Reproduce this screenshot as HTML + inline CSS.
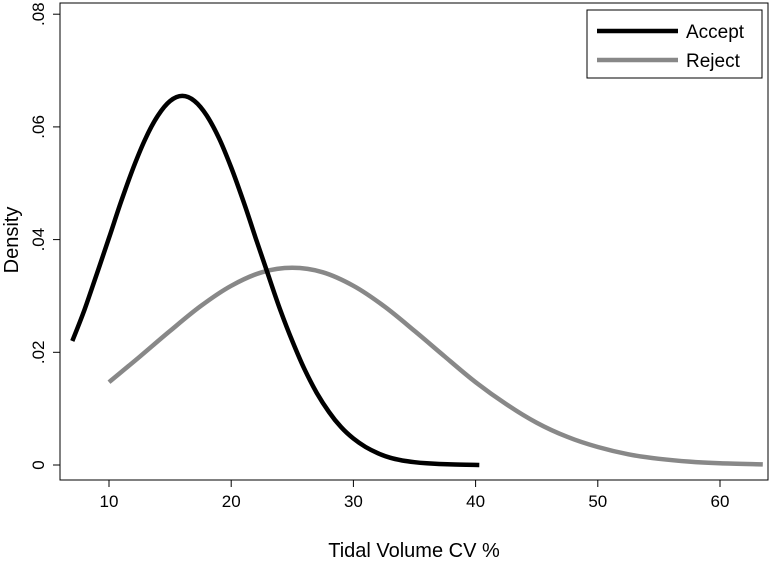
<!DOCTYPE html>
<html><head><meta charset="utf-8"><style>
body{margin:0;background:#fff;}
svg{display:block;font-family:"Liberation Sans",Arial,sans-serif;}
</style></head><body>
<svg id="chart" width="772" height="565" viewBox="0 0 772 565"></svg>
<script>
const xTicks=[10,20,30,40,50,60];
const yTicks=[0,0.02,0.04,0.06,0.08];
const yTickLabels=["0",".02",".04",".06",".08"];
const acceptX=[7,8,9,10,11,12,13,14,15,16,17,18,19,20,21,22,23,24,25,26,27,28,29,30,31,32,33,34,35,36,38,40.3];
const acceptY=[.0220,.0276,.0339,.0403,.0468,.0528,.0580,.0620,.0646,.0655,.0646,.0620,.0580,.0528,.0468,.0403,.0339,.0276,.0220,.0170,.0128,.0094,.0067,.0047,.0032,.0021,.0013,.0008,.0005,.0003,.0001,0];
const rejectX=[10,12.5,15,17.5,20,22.5,25,27.5,30,32.5,35,37.5,40,42.5,45,47.5,50,52.5,55,57.5,60,63.5];
const rejectY=[.0147,.0192,.0238,.0282,.0318,.0342,.0350,.0342,.0318,.0282,.0238,.0192,.0147,.0108,.0075,.0050,.0032,.0019,.0011,.0006,.0003,.0001];

const NS="http://www.w3.org/2000/svg";
const svg=document.getElementById('chart');
const L=60,R=768,T=3,B=480;
const xS=v=>109+(v-10)*12.22;
const yS=v=>465-v*5635;
function mk(tag,attrs,parent){const e=document.createElementNS(NS,tag);for(const k in attrs)e.setAttribute(k,attrs[k]);(parent||svg).appendChild(e);return e;}

const frame=mk('rect',{x:L,y:T,width:R-L,height:B-T,fill:'none',stroke:'#000','stroke-width':1});



xTicks.forEach(t=>{
  const tk=mk('line',{x1:xS(t),x2:xS(t),y1:B,y2:B+7,stroke:'#000'});
  
  
  const tx=mk('text',{x:xS(t),y:B+27,'text-anchor':'middle','font-size':17});
  tx.textContent=t;
  
  
});
yTicks.forEach((t,i)=>{
  const y=yS(t);
  const tk=mk('line',{x1:L-7,x2:L,y1:y,y2:y,stroke:'#000'});
  
  
  const tx=mk('text',{x:44,y:y,'text-anchor':'middle','font-size':17,transform:`rotate(-90 44 ${y})`});
  tx.textContent=yTickLabels[i];
  
  
});

const xt=mk('text',{x:414,y:557,'text-anchor':'middle','font-size':20});
xt.textContent='Tidal Volume CV %';


const yt=mk('text',{x:18,y:240,'text-anchor':'middle','font-size':20,transform:'rotate(-90 18 240)'});
yt.textContent='Density';



function curve(xs,ys,color,name){
  const P=xs.map((x,i)=>[xS(x),yS(ys[i])]);
  let d='M'+P[0][0].toFixed(1)+' '+P[0][1].toFixed(1);
  for(let i=0;i<P.length-1;i++){
    const p0=P[Math.max(0,i-1)],p1=P[i],p2=P[i+1],p3=P[Math.min(P.length-1,i+2)];
    const c1=[p1[0]+(p2[0]-p0[0])/6,p1[1]+(p2[1]-p0[1])/6];
    const c2=[p2[0]-(p3[0]-p1[0])/6,p2[1]-(p3[1]-p1[1])/6];
    d+=` C${c1[0].toFixed(1)} ${c1[1].toFixed(1)} ${c2[0].toFixed(1)} ${c2[1].toFixed(1)} ${p2[0].toFixed(1)} ${p2[1].toFixed(1)}`;
  }
  const p=mk('path',{d:d,fill:'none',stroke:color,'stroke-width':4.5,'stroke-linejoin':'round'});
  
  
}
curve(rejectX,rejectY,'#888','reject-line');
curve(acceptX,acceptY,'#000','accept-line');

const lg=mk('g',{});


mk('rect',{x:587,y:10,width:175,height:68,fill:'#fff',stroke:'#000'},lg);
[['Accept','#000',31],['Reject','#888',60]].forEach(([lab,c,y])=>{
  const g=mk('g',{},lg);
  
  
  mk('line',{x1:597,x2:678,y1:y,y2:y,stroke:c,'stroke-width':4.5},g);
  const t=mk('text',{x:686,y:y+7,'font-size':19},g);
  t.textContent=lab;
});
</script>
</body></html>
